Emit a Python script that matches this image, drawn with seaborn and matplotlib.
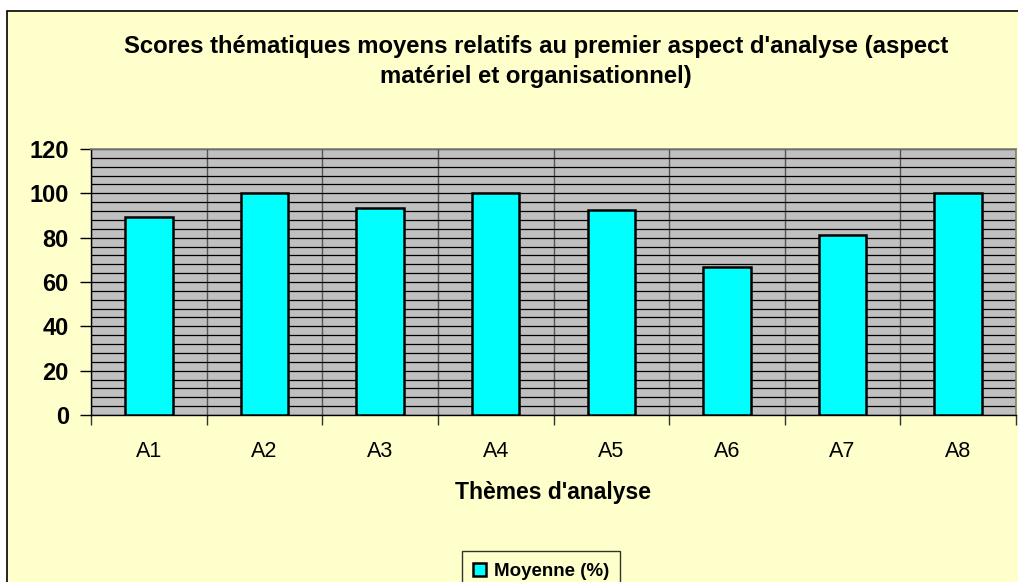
import matplotlib
matplotlib.use("Agg")
import matplotlib.pyplot as plt
from matplotlib.patches import Rectangle
from matplotlib.ticker import MultipleLocator, FixedLocator
import seaborn as sns
import pandas as pd

# Mean thematic scores (%) per analysis theme
themes = ["A1", "A2", "A3", "A4", "A5", "A6", "A7", "A8"]
scores = [89.1, 100, 93.5, 100, 92.6, 66.7, 81.3, 100]
y_ticks = [0, 20, 40, 60, 80, 100, 120]

title_lines = [
    "Scores thématiques moyens relatifs au premier aspect d'analyse (aspect",
    "matériel et organisationnel)",
]
x_label = "Thèmes d'analyse"
series_name = "Moyenne (%)"

df = pd.DataFrame({"theme": themes, "score": scores})

sns.set_theme(style="white")
plt.rcParams["font.family"] = ["Liberation Sans", "DejaVu Sans"]
plt.rcParams["text.color"] = "black"
plt.rcParams["xtick.color"] = "black"
plt.rcParams["ytick.color"] = "black"

W, H = 1018, 582
fig = plt.figure(figsize=(W / 100, H / 100), dpi=100)
fig.patch.set_facecolor("white")

# Chart area: cream panel with black frame
fig.patches.append(Rectangle((7 / W, -0.1), 1.2, 1 - 11 / H + 0.1,
                             transform=fig.transFigure, facecolor="#FFFFCC",
                             edgecolor="black", linewidth=1.2, zorder=-10))

ax = fig.add_axes([91 / W, 1 - 415 / H, (1016 - 91) / W, (415 - 149) / H])
ax.set_facecolor("#C0C0C0")

sns.barplot(data=df, x="theme", y="score", color="#00FFFF", edgecolor="black",
            linewidth=1.8, width=0.41, saturation=1, ax=ax, zorder=3,
            label=series_name)

ax.set_xlim(-0.5, len(themes) - 0.5)
ax.set_ylim(0, 120)
ax.set_yticks(y_ticks)
ax.yaxis.set_minor_locator(MultipleLocator(4))
ax.set_yticklabels([str(v) for v in y_ticks], fontsize=17, fontweight="bold")

# category labels centred, tick marks on category boundaries
ax.set_xticks(range(len(themes)))
ax.set_xticklabels(themes, fontsize=15.5)
ax.xaxis.set_minor_locator(FixedLocator([i - 0.5 for i in range(len(themes) + 1)]))
ax.tick_params(axis="x", which="major", length=0, pad=19, colors="black")
ax.tick_params(axis="x", which="minor", length=7, width=1, color="#333333",
               direction="out", bottom=True)
ax.tick_params(axis="y", which="major", length=8, width=1, color="black",
               direction="out", left=True, pad=8)
ax.tick_params(axis="y", which="minor", length=0)

ax.grid(True, axis="y", which="both", color="black", linewidth=0.9, zorder=1)
ax.grid(True, axis="x", which="minor", color="#555555", linewidth=1.0, zorder=1)
ax.grid(False, axis="x", which="major")
ax.set_axisbelow(True)

for side in ("top", "right"):
    ax.spines[side].set_color("#808080")
    ax.spines[side].set_linewidth(1.2)
for side in ("left", "bottom"):
    ax.spines[side].set_color("black")
    ax.spines[side].set_linewidth(1.0)

ax.set_xlabel("")
ax.set_ylabel("")
if ax.get_legend() is not None:
    ax.get_legend().remove()

fig.text(536 / W, 1 - 46 / H, title_lines[0], ha="center", va="center",
         fontsize=17.2, fontweight="bold")
fig.text(536 / W, 1 - 76 / H, title_lines[1], ha="center", va="center",
         fontsize=17.2, fontweight="bold")
fig.text(553 / W, 1 - 493 / H, x_label, ha="center", va="center",
         fontsize=16.5, fontweight="bold")

handles, labels = ax.get_legend_handles_labels()
leg = fig.legend(handles[:1], labels[:1], loc="upper center",
                 bbox_to_anchor=(541 / W, 1 - 542 / H), frameon=True,
                 fancybox=False, edgecolor="black", facecolor="#FFFFCC",
                 prop={"size": 13.5, "weight": "bold"}, handlelength=0.7,
                 handleheight=0.7, handletextpad=0.4, borderpad=0.6)
leg.get_frame().set_linewidth(1.0)

fig.savefig("out.png", dpi=100, facecolor=fig.get_facecolor())
